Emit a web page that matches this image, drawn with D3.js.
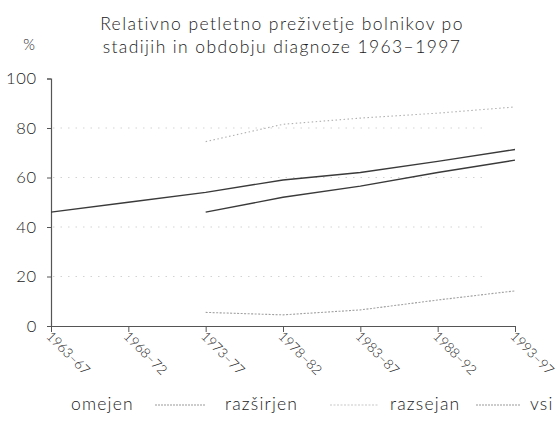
<!DOCTYPE html>
<html><head><meta charset="utf-8">
<script src="https://cdn.jsdelivr.net/npm/d3@7"></script>
<style>
body{margin:0;background:#fff;}
svg{display:block;font-family:Lato,"Noto Sans",sans-serif;font-weight:300;}
</style></head>
<body><svg id="c" width="560" height="428"></svg>
<script>
const categories = ["1963–67","1968–72","1973–77","1978–82","1983–87","1988–92","1993–97"];
const omejen    = [null, null, 74.5, 81.5, 84, 86, 88.5];
const razsirjen = [null, null, 46, 52, 56.5, 62, 67];
const razsejan  = [null, null, 5.5, 4.5, 6.5, 10.5, 14.2];
const vsi       = [46, 50, 54, 59, 62, 66.5, 71.3];
const yTicks = [0, 20, 40, 60, 80, 100];
const titleLines = ["Relativno petletno preživetje bolnikov po", "stadijih in obdobju diagnoze 1963–1997"];
const seriesNames = ["omejen", "razširjen", "razsejan", "vsi"];

const svg = d3.select("#c");
const x = d3.scalePoint().domain(categories).range([51, 515]);
const y = d3.scaleLinear().domain([0, 100]).range([326, 78.5]);

// title
svg.append("text").attr("x", 282).attr("y", 30).attr("text-anchor", "middle")
  .attr("font-size", 17.5).attr("letter-spacing", 1.4).attr("fill", "#1a1a1a").text(titleLines[0]);
svg.append("text").attr("x", 282).attr("y", 53).attr("text-anchor", "middle")
  .attr("font-size", 17.5).attr("letter-spacing", 1.4).attr("fill", "#1a1a1a").text(titleLines[1]);
svg.append("text").attr("x", 29).attr("y", 50).attr("text-anchor", "middle")
  .attr("font-size", 15).attr("fill", "#1a1a1a").text("%");

// faint gridlines
svg.append("g").selectAll("line").data(yTicks.filter(d => d > 0 && d < 100)).join("line")
  .attr("x1", x.range()[0] + 2).attr("x2", x.range()[1] - 30)
  .attr("y1", d => y(d)).attr("y2", d => y(d))
  .attr("stroke", "#c8c8c8").attr("stroke-width", 0.8).attr("stroke-dasharray", "1.5,6");

// axes
const yAxis = d3.axisLeft(y).tickValues(yTicks).tickSize(4).tickPadding(10);
const gy = svg.append("g").attr("transform", "translate(51,0)").call(yAxis);
gy.select(".domain").attr("stroke", "#555").attr("stroke-width", 1.2);
gy.selectAll(".tick line").attr("stroke", "#555");
gy.selectAll("text").attr("font-size", 16.5).attr("letter-spacing", 0.8).attr("fill", "#1a1a1a")
  .attr("font-family", "Lato,'Noto Sans',sans-serif");

const xAxis = d3.axisBottom(x).tickSize(6).tickSizeOuter(0);
const gx = svg.append("g").attr("transform", "translate(0,326)").call(xAxis);
gx.select(".domain").attr("stroke", "#555").attr("stroke-width", 1.2);
gx.selectAll(".tick line").attr("stroke", "#555");
gx.selectAll("text").attr("font-size", 13.5).attr("fill", "#1a1a1a")
  .attr("font-family", "Lato,'Noto Sans',sans-serif")
  .attr("text-anchor", "start").attr("dy", null).attr("y", 0)
  .attr("transform", "translate(-6,11) rotate(45)");

// lines
const line = d3.line().defined(d => d.v != null).x(d => x(d.c)).y(d => y(d.v));
const mk = arr => categories.map((c, i) => ({c, v: arr[i]}));
const styles = [
  {data: omejen, stroke: "#b0b0b0", w: 1.1, dash: "1.5,2.5"},
  {data: razsirjen, stroke: "#3a3a3a", w: 1.4, dash: null},
  {data: razsejan, stroke: "#a0a0a0", w: 1.1, dash: "2,1.5"},
  {data: vsi, stroke: "#3a3a3a", w: 1.4, dash: null}
];
styles.forEach(s => {
  svg.append("path").attr("d", line(mk(s.data))).attr("fill", "none")
    .attr("stroke", s.stroke).attr("stroke-width", s.w)
    .attr("stroke-dasharray", s.dash);
});

// legend
const legendItems = [
  {name: seriesNames[0], tx: 71, lx1: 155, lx2: 205, stroke: "#999", dash: "2,1"},
  {name: seriesNames[1], tx: 225, lx1: 330, lx2: 378, stroke: "#c8c8c8", dash: "2,1.5"},
  {name: seriesNames[2], tx: 390, lx1: 476, lx2: 520, stroke: "#999", dash: "2,1"},
  {name: seriesNames[3], tx: 530, lx1: null}
];
legendItems.forEach(it => {
  svg.append("text").attr("x", it.tx).attr("y", 410).attr("font-size", 17.5)
    .attr("letter-spacing", 1.2).attr("fill", "#1a1a1a").text(it.name);
  if (it.lx1 != null) {
    svg.append("line").attr("x1", it.lx1).attr("x2", it.lx2).attr("y1", 405).attr("y2", 405)
      .attr("stroke", it.stroke).attr("stroke-width", 1.2).attr("stroke-dasharray", it.dash);
  }
});
</script></body></html>
